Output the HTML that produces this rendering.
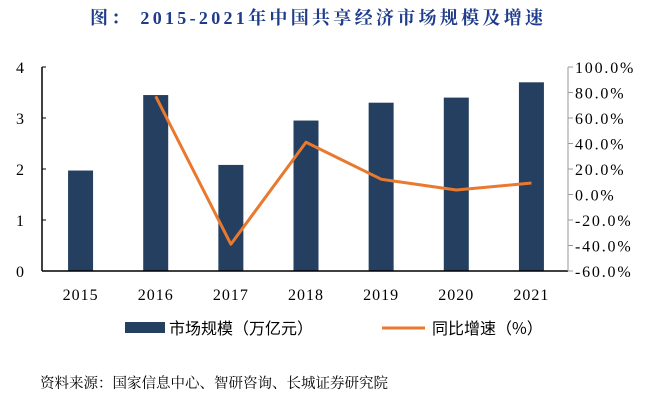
<!DOCTYPE html>
<html><head><meta charset="utf-8"><style>
body{margin:0;background:#fff;width:663px;height:407px;overflow:hidden;font-family:"Liberation Serif","Noto Serif CJK SC",serif}
</style></head><body>
<svg width="663" height="407" xmlns="http://www.w3.org/2000/svg">
<text x="90" y="24" font-size="18" font-weight="bold" fill="#1f3c8c" font-family="Liberation Serif, Noto Serif CJK SC, serif" textLength="453">图：  2015-2021年中国共享经济市场规模及增速</text>
<g id="plot"></g>
<g>
<rect x="125" y="322" width="40" height="11" fill="#243f60"/>
<text x="169" y="334" font-size="16" font-family="Noto Sans CJK SC, sans-serif">市场规模（万亿元）</text>
<line x1="382" y1="328" x2="425" y2="328" stroke="#e8792f" stroke-width="3"/>
<text x="432" y="334" font-size="16" font-family="Noto Sans CJK SC, sans-serif">同比增速（%）</text>
</g>
<text x="40" y="388" font-size="14.5" font-family="Noto Serif CJK SC, serif">资料来源：国家信息中心、智研咨询、长城证券研究院</text>
</svg>
<script>
const categories=["2015","2016","2017","2018","2019","2020","2021"];
const marketSize=[1.97,3.45,2.08,2.95,3.3,3.4,3.7];
const growth=[null,77,-39,41,12,3.5,9];
const leftTicks=[0,1,2,3,4];
const rightTicks=[-60,-40,-20,0,20,40,60,80,100];
const NS="http://www.w3.org/2000/svg";
const g=document.getElementById('plot');
const X0=42,X1=568,Y0=271,Y1=67;
const band=(X1-X0)/categories.length;
const xc=i=>X0+band*(i+0.5)+1;
const yl=v=>Y0-(v/4)*(Y0-Y1);
const yr=v=>Y0-((v+60)/160)*(Y0-Y1);
function mk(t,a){const e=document.createElementNS(NS,t);for(const k in a)e.setAttribute(k,a[k]);g.appendChild(e);return e;}
marketSize.forEach((v,i)=>{const r=mk('rect',{x:xc(i)-12.5,y:yl(v),width:25,height:Y0-yl(v),fill:'#243f60'});

});
let a=mk('line',{x1:X0,y1:Y1,x2:X0,y2:Y0,stroke:'#000','stroke-width':1.5});


a=mk('line',{x1:X0,y1:Y0,x2:X1,y2:Y0,stroke:'#000','stroke-width':1.5});


a=mk('line',{x1:X1,y1:Y1,x2:X1,y2:Y0,stroke:'#999','stroke-width':1});


leftTicks.forEach(v=>{mk('line',{x1:X0,y1:yl(v),x2:X0+4,y2:yl(v),stroke:'#000'});
const t=mk('text',{x:20,y:yl(v)+6,'font-size':16,'text-anchor':'middle'});t.textContent=v;

});
rightTicks.forEach(v=>{mk('line',{x1:X1,y1:yr(v),x2:X1+5,y2:yr(v),stroke:'#999'});
const t=mk('text',{x:575,y:yr(v)+6,'font-size':16,'letter-spacing':'1.8'});t.textContent=v.toFixed(1)+'%';

});
categories.forEach((c,i)=>{const t=mk('text',{x:xc(i),y:300,'font-size':16,'text-anchor':'middle','letter-spacing':'1'});t.textContent=c;

});
const pts=growth.map((v,i)=>v===null?null:xc(i)+','+yr(v)).filter(p=>p);
const pl=mk('polyline',{points:pts.join(' '),fill:'none',stroke:'#e8792f','stroke-width':3,'stroke-linejoin':'round'});


</script>
</body></html>
